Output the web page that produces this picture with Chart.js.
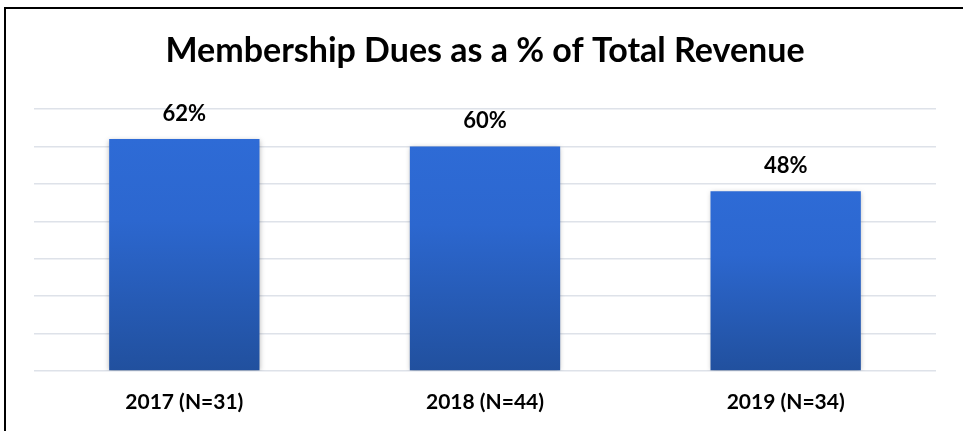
<!DOCTYPE html>
<html>
<head>
<meta charset="utf-8">
<title>Membership Dues as a % of Total Revenue</title>
<script src="https://cdn.jsdelivr.net/npm/chart.js@4/dist/chart.umd.min.js"></script>
<style>
  html, body { margin: 0; padding: 0; background: #fff; overflow: hidden; }
  #wrap { position: absolute; left: 0; top: 0; width: 963px; height: 431px; }
  #frame {
    position: absolute; left: 4px; top: 7px; width: 1000px; height: 1000px;
    border-left: 2px solid #000; border-top: 2px solid #000; pointer-events: none;
  }
  canvas { position: absolute; left: 0; top: 0; }
</style>
</head>
<body>
<div id="wrap">
  <canvas id="chart" width="963" height="431"></canvas>
  <div id="frame"></div>
</div>
<script>
// Survey years and respondent counts
const categories = ['2017 (N=31)', '2018 (N=44)', '2019 (N=34)'];
// Share of total revenue coming from membership dues (%)
const duesShare = [62, 60, 48];
// Value axis range
const axisMin = 0;
const axisMax = 70;
const axisStep = 10;

const FONT = 'Lato, "Open Sans", "DejaVu Sans", sans-serif';

// Vertical blue gradient for each bar, from its top down to the baseline
function barGradient(context) {
  const chart = context.chart;
  const area = chart.chartArea;
  if (!area || context.type !== 'data') return '#2D69D3';
  const yScale = chart.scales.y;
  const top = yScale.getPixelForValue(context.parsed.y);
  const bottom = yScale.getPixelForValue(0);
  const g = chart.ctx.createLinearGradient(0, top, 0, bottom);
  g.addColorStop(0, '#2E6BD6');
  g.addColorStop(0.35, '#2C67CF');
  g.addColorStop(1, '#21509E');
  return g;
}

// Soft drop shadow behind the bars
const barShadow = {
  id: 'barShadow',
  beforeDatasetsDraw(chart) {
    const ctx = chart.ctx;
    ctx.save();
    ctx.shadowColor = 'rgba(0,0,0,0.28)';
    ctx.shadowBlur = 5;
    ctx.shadowOffsetX = 0;
    ctx.shadowOffsetY = 1;
  },
  afterDatasetsDraw(chart) {
    chart.ctx.restore();
  }
};

// Percentage labels above each bar
const valueLabels = {
  id: 'valueLabels',
  afterDatasetsDraw(chart) {
    const ctx = chart.ctx;
    const meta = chart.getDatasetMeta(0);
    const values = chart.data.datasets[0].data;
    ctx.save();
    ctx.font = 'bold 22px ' + FONT;
    ctx.fillStyle = '#000';
    ctx.textAlign = 'center';
    ctx.textBaseline = 'alphabetic';
    meta.data.forEach((bar, i) => {
      ctx.fillText(values[i] + '%', bar.x, bar.y - 18);
    });
    ctx.restore();
  }
};

new Chart(document.getElementById('chart'), {
  type: 'bar',
  data: {
    labels: categories,
    datasets: [{
      data: duesShare,
      backgroundColor: barGradient,
      borderWidth: 0,
      barPercentage: 0.5,
      categoryPercentage: 1.0
    }]
  },
  options: {
    responsive: false,
    devicePixelRatio: 1,
    animation: false,
    layout: { padding: { left: 34, right: 27, top: 0, bottom: 0 } },
    plugins: {
      legend: { display: false },
      tooltip: { enabled: false },
      title: {
        display: true,
        text: 'Membership Dues as a % of Total Revenue',
        color: '#000',
        font: { family: FONT, size: 34, weight: 'bold', lineHeight: 1.2 },
        padding: { top: 30.6, bottom: 37.6 }
      }
    },
    scales: {
      x: {
        grid: { display: false, drawTicks: false },
        border: { display: false },
        ticks: {
          color: '#000',
          font: { family: FONT, size: 21, weight: 'bold' },
          padding: 19
        },
        afterFit(scale) { scale.height = 60; }
      },
      y: {
        min: axisMin,
        max: axisMax,
        ticks: { display: false, stepSize: axisStep },
        grid: { color: '#DEE2E9', lineWidth: 1.5, drawTicks: false },
        border: { display: false },
        afterFit(scale) { scale.width = 0; }
      }
    }
  },
  plugins: [barShadow, valueLabels]
});
</script>
</body>
</html>
